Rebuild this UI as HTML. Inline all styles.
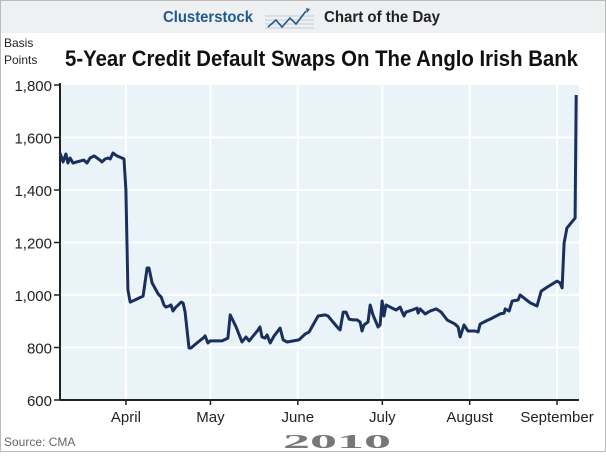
<!DOCTYPE html>
<html><head><meta charset="utf-8"><style>
body{margin:0;width:606px;height:452px;overflow:hidden;background:#fff;font-family:"Liberation Sans",sans-serif}
</style></head><body>
<svg width="606" height="452" xmlns="http://www.w3.org/2000/svg">
<rect x="0.5" y="0.5" width="605" height="451" fill="#fff" stroke="#bbb"/>
<rect x="1" y="1" width="604" height="32" fill="#eef0f2"/>
<text x="163" y="22" textLength="90" lengthAdjust="spacingAndGlyphs" font-size="16" font-weight="bold" fill="#1f5a8f">Clusterstock</text>
<g stroke="#9ab" stroke-width="0.6">
<line x1="265" y1="16" x2="314" y2="16"/><line x1="265" y1="20" x2="314" y2="20"/><line x1="265" y1="24" x2="314" y2="24"/><line x1="265" y1="28" x2="314" y2="28"/>
<polyline points="268,27 276,20 282,27 290,18 296,24 306,11" fill="none" stroke="#1f5a8f" stroke-width="1.6"/>
<polygon points="306,8 310,9 307,13" fill="#1f5a8f"/></g>
<text x="324" y="22" textLength="116" lengthAdjust="spacingAndGlyphs" font-size="16" font-weight="bold" fill="#222">Chart of the Day</text>
<text x="4" y="47" font-size="12" fill="#222">Basis</text>
<text x="4" y="64" font-size="12" fill="#222">Points</text>
<text x="65" y="66" textLength="513" lengthAdjust="spacingAndGlyphs" font-size="22" font-weight="bold" fill="#111">5-Year Credit Default Swaps On The Anglo Irish Bank</text>
<rect x="60" y="85" width="519" height="315" fill="#eaf4f8"/>
<g id="grid"></g><g id="axes"></g><g id="series"></g>
<text x="4" y="446" font-size="12" fill="#666">Source: CMA</text>
<text x="283" y="448" textLength="108" lengthAdjust="spacingAndGlyphs" font-size="20" font-weight="bold" fill="#777" font-family="Liberation Serif,serif">2010</text>
</svg>
<script>
const days=[0,1.1,2.1,2.8,3.6,4.6,7.1,8.5,9.6,10.7,12.1,14.2,14.9,16,17,17.8,18.8,20.2,22,22.7,23.4,24.1,24.9,26.6,29.5,30.9,31.6,32.7,34.8,35.9,36.9,37.6,38.7,39.4,40.1,40.8,43,43.7,44.4,45.8,46.5,48.6,50.8,51.5,52.5,53.3,57.5,59.6,60.4,62.5,64.6,66,67.1,70.3,71,71.7,72.8,73.5,74.6,76,78.1,79.2,80.6,84.8,87,88.4,91.6,94.1,95.1,96.9,98.7,99.4,100.5,101.5,102.6,104,105.4,106.5,107.2,107.9,109.3,110.1,111.1,112.9,113.6,114.3,115,115.7,117.9,119.3,120.7,122.1,122.8,125,126.7,127.1,127.8,129.6,131.4,133.5,135.3,137.4,140.2,141.3,142,143.4,144.8,147.3,148.4,149.1,151.2,153.4,156.2,157.6,158,159.4,160.5,162.6,163.3,165.1,166.9,169.3,170.8,172.9,176.4,177.5,178.2,178.9,179.9,182.8,183.2];
const values=[1541,1507,1537,1503,1522,1503,1510,1514,1503,1522,1530,1514,1507,1518,1522,1518,1541,1530,1522,1518,1400,1019,973,981,996,1103,1103,1046,1004,992,962,954,958,962,939,950,973,969,935,798,798,817,836,844,817,825,825,836,924,878,821,840,825,867,878,840,836,848,817,844,874,829,821,829,851,859,920,924,920,897,874,867,935,935,908,905,905,897,863,886,897,962,924,878,886,977,920,962,950,943,954,920,935,943,950,931,947,928,939,947,935,905,889,878,840,886,863,863,859,889,901,912,928,931,947,939,977,981,1000,985,970,958,1015,1030,1053,1046,1027,1198,1255,1293,1762];
const yTicks=[600,800,1000,1200,1400,1600,1800];
const yTickLabels=["600","800","1,000","1,200","1,400","1,600","1,800"];
const monthDays=[23.4,53.4,84.4,114.4,145.4,176.4];
const monthLabels=["April","May","June","July","August","September"];
const X0=60,X1=579,Y0=400,Y1=85,DMAX=184.2,VMIN=600,VMAX=1800;
const xs=d=>X0+d/DMAX*(X1-X0);
const ys=v=>Y0-(v-VMIN)/(VMAX-VMIN)*(Y0-Y1);
const NS="http://www.w3.org/2000/svg";
function mk(t,a,p){const e=document.createElementNS(NS,t);for(const k in a)e.setAttribute(k,a[k]);p.appendChild(e);return e;}
const grid=document.getElementById('grid'),axes=document.getElementById('axes'),series=document.getElementById('series');
yTicks.forEach((v,i)=>{
  if(v>VMIN&&v<VMAX){const g=mk('line',{x1:X0,x2:X1,y1:ys(v),y2:ys(v),stroke:'#fff','stroke-width':2},grid);
  
  }
  const t=mk('line',{x1:X0-6,x2:X0,y1:ys(v),y2:ys(v),stroke:'#222','stroke-width':1.5},axes);
  
  
  const l=mk('text',{x:X0-8,y:ys(v)+6,'text-anchor':'end','font-size':15,fill:'#222'},axes);
  l.textContent=yTickLabels[i];
  
  
});
monthDays.forEach((d,i)=>{
  const g=mk('line',{x1:xs(d),x2:xs(d),y1:Y1,y2:Y0,stroke:'#fff','stroke-width':2},grid);
  
  
  const t=mk('line',{x1:xs(d),x2:xs(d),y1:Y0,y2:Y0+5,stroke:'#222','stroke-width':1.5},axes);
  
  
  const l=mk('text',{x:xs(d),y:422,'text-anchor':'middle','font-size':15,fill:'#222'},axes);
  l.textContent=monthLabels[i];
  
  
});
const ya=mk('line',{x1:X0,x2:X0,y1:Y1-2,y2:Y0,stroke:'#222','stroke-width':2},axes);


const xa=mk('line',{x1:X0,x2:X1,y1:Y0,y2:Y0,stroke:'#222','stroke-width':2},axes);


const pts=days.map((d,i)=>xs(d).toFixed(1)+','+ys(values[i]).toFixed(1)).join(' ');
const ln=mk('polyline',{points:pts,fill:'none',stroke:'#1b2f5c','stroke-width':3,'stroke-linejoin':'round'},series);


</script>
</body></html>
